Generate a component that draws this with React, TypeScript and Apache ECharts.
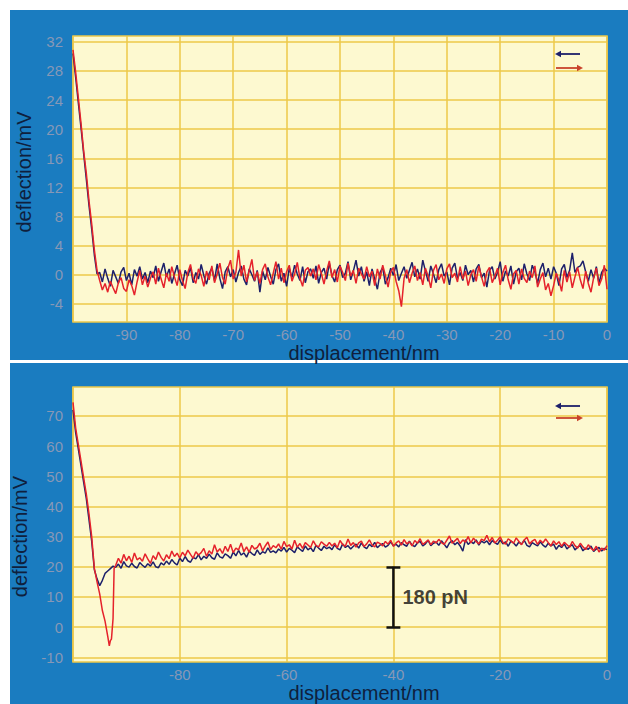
import React, { useEffect, useRef } from 'react';
import * as echarts from 'echarts';

// ---------- DATA ----------
const STEP = 0.5;

// Top panel: contact slope (explicit x) + noisy baseline (uniform step from start)
const topSlopeX = [-100, -99.5, -99, -98.5, -98, -97.5, -97, -96.5, -96, -95.5];
const topRedSlope = [30.9, 27.8, 24.3, 20.8, 17.0, 13.9, 10.1, 7.0, 3.4, 0.6];
const topBlueSlope = [30.4, 27.1, 23.6, 20.2, 16.6, 13.1, 9.5, 6.3, 2.7, 0.1];
const topNoiseStart = -95;
const topRedNoise = [
  -0.8, -2.1, -1.2, -2.4, -0.9, -1.8, -2.6, -1.1, -0.4, -1.9, -2.3, -0.7, -1.5, -2.8, -1.0, 0.6, -1.4, -0.2, -1.7, -0.5,
  0.4, -1.3, 0.9, -0.6, -1.8, 0.2, -0.9, 1.1, -0.3, -1.5, 0.7, -0.8, -1.9, 0.3, 1.4, -0.5, -1.2, 0.8, -0.1, -1.6,
  0.5, -0.7, 1.2, -1.1, 0.1, 1.6, -0.4, -1.3, 0.9, 2.0, -0.6, 0.3, 3.4, -0.2, 1.3, -1.0, 0.6, 2.1, -0.8, 0.4,
  -1.2, 0.7, 1.5, -0.3, -1.4, 0.2, 1.8, -0.6, 0.9, -1.1, 0.4, 1.3, -0.9, 0.1, 1.7, -0.5, -1.6, 0.6, 1.0, -0.2,
  0.8, -0.7, 1.4, 0.2, -1.3, 0.5, 1.9, -0.4, 0.7, -1.0, 1.2, 0.3, -0.8, 1.6, -0.2, 0.6, -1.2, 0.9, 0.1, -0.6,
  1.1, -0.3, 0.5, -1.5, 0.8, -0.6, 1.3, -0.1, -1.7, 0.4, 1.0, -0.9, -2.2, -4.4, -0.5, 0.7, -1.1, 0.2, 1.2, -0.8,
  0.3, -1.4, 0.9, -0.2, -1.8, 0.6, 1.4, -0.7, 0.1, -1.2, 0.8, 1.5, -0.4, 0.2, -1.0, 1.1, -0.6, 0.5, -1.5, 0.0,
  0.7, -0.9, 1.2, -0.3, -1.6, 0.4, 1.0, -1.1, -0.2, 0.9, -1.4, 0.3, 1.3, -0.7, -2.0, 0.1, 0.6, -1.3, 0.8, -0.5,
  -1.1, 0.5, -0.4, 1.2, -1.7, -0.6, 0.3, -2.1, -1.2, -2.9, -1.5, 0.2, -0.8, -2.3, 0.6, -1.0, 0.4, -1.8, -0.3, 1.0,
  -0.7, -1.9, 0.5, -1.2, -2.4, -0.4, 0.9, -1.5, -0.6, 1.3, -2.0,
];
const topBlueNoise = [
  0.3, -1.0, 0.8, -0.5, -1.6, 0.6, -0.3, -1.2, 0.4, 1.0, -0.8, 0.2, -1.4, 0.7, -0.2, 1.1, -0.6, 0.3, -1.1, 0.5,
  -0.4, 1.2, -0.9, 0.4, 1.6, -0.3, 0.8, -1.2, 0.1, 1.3, -0.7, -1.5, 0.6, -0.2, 1.0, -1.1, 0.3, -0.6, 1.4, -0.1,
  -1.3, 0.2, 0.9, -0.8, 1.5, -0.5, -1.9, 0.4, 1.1, -0.3, 0.7, -1.0, 0.3, 1.2, -0.6, -1.4, 0.8, 0.0, -0.9, 0.6,
  -2.4, 0.5, -0.7, 1.0, -0.2, -1.3, 0.7, 1.5, -0.9, 0.2, -1.6, 0.9, -0.4, 1.3, 0.1, -0.8, 1.1, -1.1, 0.4, 0.8,
  -0.5, 1.2, -1.2, 0.3, 0.9, -0.6, 1.6, -0.1, -1.0, 0.7, 1.3, -0.4, 0.2, 1.8, -0.7, 0.5, 2.0, -0.2, 1.1, -0.9,
  0.4, -1.5, 0.8, -0.6, -2.0, 0.3, 1.0, -1.3, -0.4, 0.9, -0.1, 1.4, -0.8, 0.2, 1.1, -0.5, 0.6, 1.7, -0.3, 0.8,
  -0.6, 2.0, 0.5, -0.9, 1.2, 0.1, -1.1, 0.7, 1.5, -0.2, 0.4, -1.4, 0.9, 1.6, -0.5, 0.3, -0.8, 1.3, 0.0, 0.6,
  -1.0, 0.8, 1.4, -0.4, 0.2, -1.7, 0.6, 1.1, -0.6, 0.3, 1.8, -0.9, 0.5, -0.2, 1.2, -1.3, 0.4, 0.9, -0.7, 1.5,
  0.1, -0.8, 1.3, 0.4, -1.2, 0.7, 1.6, -0.3, 0.9, -0.6, 1.1, 0.2, -1.5, 0.8, 1.4, -0.4, 0.6, 3.0, 0.3, 1.0,
  1.2, 1.9, 0.4, -0.9, 0.7, -0.5, 1.1, -1.2, 0.3, 0.9, 0.5,
];

// Bottom panel: contact slope + adhesion dip (explicit x) + noisy baseline
const botRedDipX = [-100, -99.5, -99, -98.5, -98, -97.5, -97, -96.5, -96, -95.5, -95, -94.5, -94, -93.5, -93.2, -93, -92.8, -92.5, -92.3];
const botRedDip = [74.5, 66, 60.5, 55, 49.5, 44, 37.5, 30, 19.5, 15, 11, 5.5, 2, -3, -6.2, -4.5, -4.0, 2.8, 19.5];
const botBlueDipX = [-100, -99.5, -99, -98.5, -98, -97.5, -97, -96.5, -96, -95.5, -95, -94.5, -94, -93.5, -93, -92.5];
const botBlueDip = [72, 64.5, 59, 53.5, 48, 42.5, 35.5, 28.5, 19, 16, 13.7, 15.5, 17.8, 18.6, 19.4, 20.2];
const botNoiseStart = -92;
const botRedNoise = [
  20.5, 22.8, 21.2, 24.1, 22.0, 23.5, 21.4, 24.6, 22.3, 23.0, 21.8, 24.3, 22.6, 21.1, 23.7, 22.4, 24.9, 23.1, 21.9, 24.0,
  22.7, 25.2, 23.4, 24.5, 22.9, 24.8, 23.6, 25.5, 24.1, 22.8, 25.0, 23.9, 24.7, 26.1, 23.5, 25.3, 24.2, 27.3, 24.9, 26.0,
  24.4, 26.8, 25.1, 27.5, 24.7, 26.2, 25.6, 27.9, 25.0, 26.6, 24.8, 27.1, 25.9, 26.4, 27.8, 25.3, 26.9, 28.2, 25.7, 27.0,
  26.3, 27.6, 25.8, 28.4, 26.7, 27.3, 25.9, 28.8, 26.5, 27.7, 26.1, 28.0, 27.2, 26.4, 28.6, 27.0, 26.6, 28.3, 27.5, 26.8,
  28.1, 26.9, 27.8, 26.3, 28.7, 27.4, 26.8, 29.2, 27.1, 28.0, 26.5, 27.9, 28.5, 26.7, 27.6, 28.9, 27.3, 26.6, 28.2, 27.7,
  26.9, 28.4, 27.5, 28.8, 26.8, 27.9, 28.6, 27.2, 29.0, 27.6, 28.3, 26.9, 28.7, 27.8, 29.3, 27.4, 28.1, 28.9, 27.3, 28.5,
  27.9, 29.1, 28.0, 27.4, 28.8, 30.2, 27.8, 28.6, 29.4, 27.7, 28.9, 28.2, 30.0, 27.9, 29.5, 28.4, 27.6, 29.2, 28.7, 30.4,
  28.3, 29.7, 27.9, 28.8, 29.9, 28.1, 27.5, 29.3, 28.6, 27.8, 29.6, 28.4, 27.3, 28.9, 29.8, 27.6, 28.5, 29.1, 27.4, 28.8,
  27.9, 29.2, 28.0, 26.9, 28.6, 27.4, 28.3, 26.8, 28.1, 27.3, 26.5, 28.4, 27.0, 26.2, 27.8, 26.6, 25.7, 27.3, 26.1, 25.4,
  26.8, 24.9, 26.2, 25.5, 27.0,
];
const botBlueNoise = [
  19.8, 20.9, 19.5, 21.7, 20.3, 19.9, 21.2, 20.1, 19.6, 21.4, 20.5, 19.8, 21.0, 20.2, 21.6, 20.0, 19.7, 21.3, 20.6, 21.9,
  20.8, 22.4, 21.3, 20.6, 22.9, 21.7, 23.4, 22.0, 21.5, 23.1, 22.6, 24.0, 22.3, 23.5, 22.8, 24.2, 23.0, 22.5, 24.6, 23.3,
  22.9, 24.3, 23.7, 22.8, 24.9, 23.6, 25.4, 23.9, 24.6, 23.2, 25.2, 24.4, 23.8, 25.6, 24.1, 25.0, 24.5, 26.3, 24.8, 25.3,
  24.6, 25.9, 25.2, 26.4, 24.9, 26.1, 25.5, 24.7, 26.6, 25.8, 25.1, 26.9, 25.6, 26.3, 25.0, 27.1, 26.2, 25.4, 26.8, 26.0,
  26.5, 25.7, 27.3, 26.1, 25.6, 27.6, 26.4, 27.0, 25.9, 26.8, 27.5, 26.2, 27.9, 26.6, 26.0, 27.4, 26.7, 28.1, 26.3, 27.2,
  27.7, 26.5, 27.1, 28.3, 26.9, 27.5, 26.6, 28.0, 27.3, 26.8, 28.5, 27.2, 26.7, 27.9, 28.4, 26.9, 27.6, 28.8, 27.0, 27.8,
  28.2, 27.1, 28.6, 27.5, 26.3, 27.9, 28.7, 27.3, 28.1, 26.9, 25.2, 29.0, 27.4, 28.3, 27.7, 28.9, 27.2, 28.5, 27.9, 28.6,
  27.3, 28.7, 28.0, 27.4, 28.9, 27.6, 28.3, 26.8, 28.5, 27.9, 26.9, 28.2, 27.5, 28.8, 27.1, 26.6, 28.0, 27.4, 26.9, 28.3,
  27.2, 26.5, 27.8, 26.9, 27.5, 25.8, 27.1, 26.4, 27.6, 25.9, 26.8, 27.3, 25.6, 26.5, 27.0, 25.3, 26.2, 25.8, 26.9, 25.1,
  25.9, 26.4, 25.2, 26.1, 25.7,
];

// Axes
const xMin = -100;
const xMax = 0;
const topXInterval = 10;
const botXInterval = 20;
const topYMin = -6.5;
const topYMax = 32.8;
const topYTicks = [-4, 0, 4, 8, 12, 16, 20, 24, 28, 32];
const botYMin = -11.6;
const botYMax = 79.6;
const botYTicks = [-10, 0, 10, 20, 30, 40, 50, 60, 70];

// Scale bar (bottom panel)
const scaleBarX = -40;
const scaleBarY = [0, 20];
const scaleBarLabel = '180 pN';

const xTitle = 'displacement/nm';
const yTitle = 'deflection/mV';

// ---------- HELPERS ----------
function build(xs: number[], ys: number[], start: number, noise: number[]) {
  const out: number[][] = xs.map((x, i) => [x, ys[i]]);
  noise.forEach((y, i) => out.push([+(start + i * STEP).toFixed(2), y]));
  return out;
}

const FONT = "'Liberation Sans', Arial, Helvetica, sans-serif";
const BLUE_BG = '#1a7cc0';
const PLOT_BG = '#fdf9d0';
const GRID_C = '#ecc84a';
const TICK_C = '#8798b6';
const TITLE_C = '#0f1f3d';
const RED = '#e5222b';
const NAVY = '#1d206a';

function arrow(x1: number, x2: number, y: number, color: string, headLeft: boolean) {
  const hx = headLeft ? x1 : x2;
  const d = headLeft ? 6 : -6;
  return [
    { type: 'line', z: 50, silent: true, shape: { x1: headLeft ? x1 + 3 : x1, y1: y, x2: headLeft ? x2 : x2 - 3, y2: y }, style: { stroke: color, lineWidth: 1.8 } },
    { type: 'polygon', z: 50, silent: true, shape: { points: [[hx, y], [hx + d, y - 3.2], [hx + d, y + 3.2]] }, style: { fill: color } },
  ];
}

export default function App() {
  const ref = useRef<HTMLDivElement>(null);
  useEffect(() => {
    if (!ref.current) return;
    const chart = echarts.init(ref.current, undefined, { renderer: 'svg' });

    const xAxisCommon = (gridIndex: number, interval: number, nameGap: number) => ({
      type: 'value',
      gridIndex,
      min: xMin,
      max: xMax,
      interval,
      axisLine: { show: false },
      axisTick: { show: false },
      axisLabel: { showMinLabel: false, color: TICK_C, fontSize: 15, fontFamily: FONT, margin: 5 },
      splitLine: { show: true, lineStyle: { color: GRID_C, width: 1.5 } },
      name: xTitle,
      nameLocation: 'middle',
      nameGap,
      nameTextStyle: { color: TITLE_C, fontSize: 20, fontFamily: FONT, padding: [0, 0, 0, 48] },
    });
    const yAxisCommon = (gridIndex: number, min: number, max: number, ticks: number[], pad: number[]) => ({
      type: 'value',
      gridIndex,
      min,
      max,
      axisLine: { show: false },
      axisTick: { show: false, customValues: ticks },
      axisLabel: { color: TICK_C, fontSize: 15, fontFamily: FONT, margin: 10, customValues: ticks },
      splitLine: { show: true, lineStyle: { color: GRID_C, width: 1.5 } },
      name: yTitle,
      nameLocation: 'middle',
      nameGap: 39,
      nameTextStyle: { color: TITLE_C, fontSize: 20, fontFamily: FONT, padding: pad },
    });

    const lineS = (name: string, xi: number, data: number[][], color: string, z: number) => ({
      name,
      type: 'line',
      xAxisIndex: xi,
      yAxisIndex: xi,
      data,
      showSymbol: false,
      symbol: 'none',
      lineStyle: { color, width: 1.5 },
      itemStyle: { color },
      z,
      silent: true,
    });

    const option: any = {
      animation: false,
      backgroundColor: '#ffffff',
      graphic: [
        { type: 'rect', z: -100, silent: true, shape: { x: 10, y: 10, width: 618, height: 350 }, style: { fill: BLUE_BG } },
        { type: 'rect', z: -100, silent: true, shape: { x: 10, y: 363, width: 618, height: 341 }, style: { fill: BLUE_BG } },
        ...arrow(555, 580, 54, NAVY, true),
        ...arrow(556, 583, 68, '#c9432c', false),
        ...arrow(555, 580, 406, NAVY, true),
        ...arrow(556, 583, 418, '#c9432c', false),
      ],
      grid: [
        { left: 73, top: 36, width: 534, height: 286, show: true, backgroundColor: PLOT_BG, borderColor: GRID_C, borderWidth: 1.5 },
        { left: 73, top: 387, width: 534, height: 285, show: true, backgroundColor: PLOT_BG, borderColor: GRID_C, borderWidth: 1.5 },
      ],
      xAxis: [xAxisCommon(0, topXInterval, 18), xAxisCommon(1, botXInterval, 14)],
      yAxis: [
        yAxisCommon(0, topYMin, topYMax, topYTicks, [0, 0, 0, 14]),
        yAxisCommon(1, botYMin, botYMax, botYTicks, [0, 24, 0, 0]),
      ],
      series: [
        lineS('top retract', 0, build(topSlopeX, topBlueSlope, topNoiseStart, topBlueNoise), NAVY, 2),
        lineS('top approach', 0, build(topSlopeX, topRedSlope, topNoiseStart, topRedNoise), RED, 3),
        lineS('bottom retract', 1, build(botBlueDipX, botBlueDip, botNoiseStart, botBlueNoise), NAVY, 2),
        lineS('bottom approach', 1, build(botRedDipX, botRedDip, botNoiseStart, botRedNoise), RED, 3),
        {
          name: 'scale bar',
          type: 'line',
          xAxisIndex: 1,
          yAxisIndex: 1,
          data: [[scaleBarX, scaleBarY[0]], [scaleBarX, scaleBarY[1]]],
          symbol: 'none',
          lineStyle: { color: '#111111', width: 2.5 },
          z: 5,
          silent: true,
          markLine: {
            silent: true,
            symbol: ['none', 'none'],
            label: { show: false },
            lineStyle: { color: '#111111', width: 2.5, type: 'solid' },
            data: [
              [{ coord: [scaleBarX - 1.3, scaleBarY[0]] }, { coord: [scaleBarX + 1.3, scaleBarY[0]] }],
              [{ coord: [scaleBarX - 1.3, scaleBarY[1]] }, { coord: [scaleBarX + 1.3, scaleBarY[1]] }],
            ],
          },
        },
        {
          name: 'scale label',
          type: 'scatter',
          xAxisIndex: 1,
          yAxisIndex: 1,
          data: [[scaleBarX, (scaleBarY[0] + scaleBarY[1]) / 2]],
          symbolSize: 0,
          silent: true,
          z: 6,
          label: {
            show: true,
            position: 'right',
            distance: 9,
            formatter: scaleBarLabel,
            color: '#111111',
            fontSize: 20,
            fontWeight: 'bold',
            fontFamily: FONT,
          },
        },
      ],
    };
    chart.setOption(option);
    return () => chart.dispose();
  }, []);

  return (
    <div
      ref={ref}
      style={{ position: 'absolute', left: 0, top: 0, width: 628, height: 704 }}
    />
  );
}
